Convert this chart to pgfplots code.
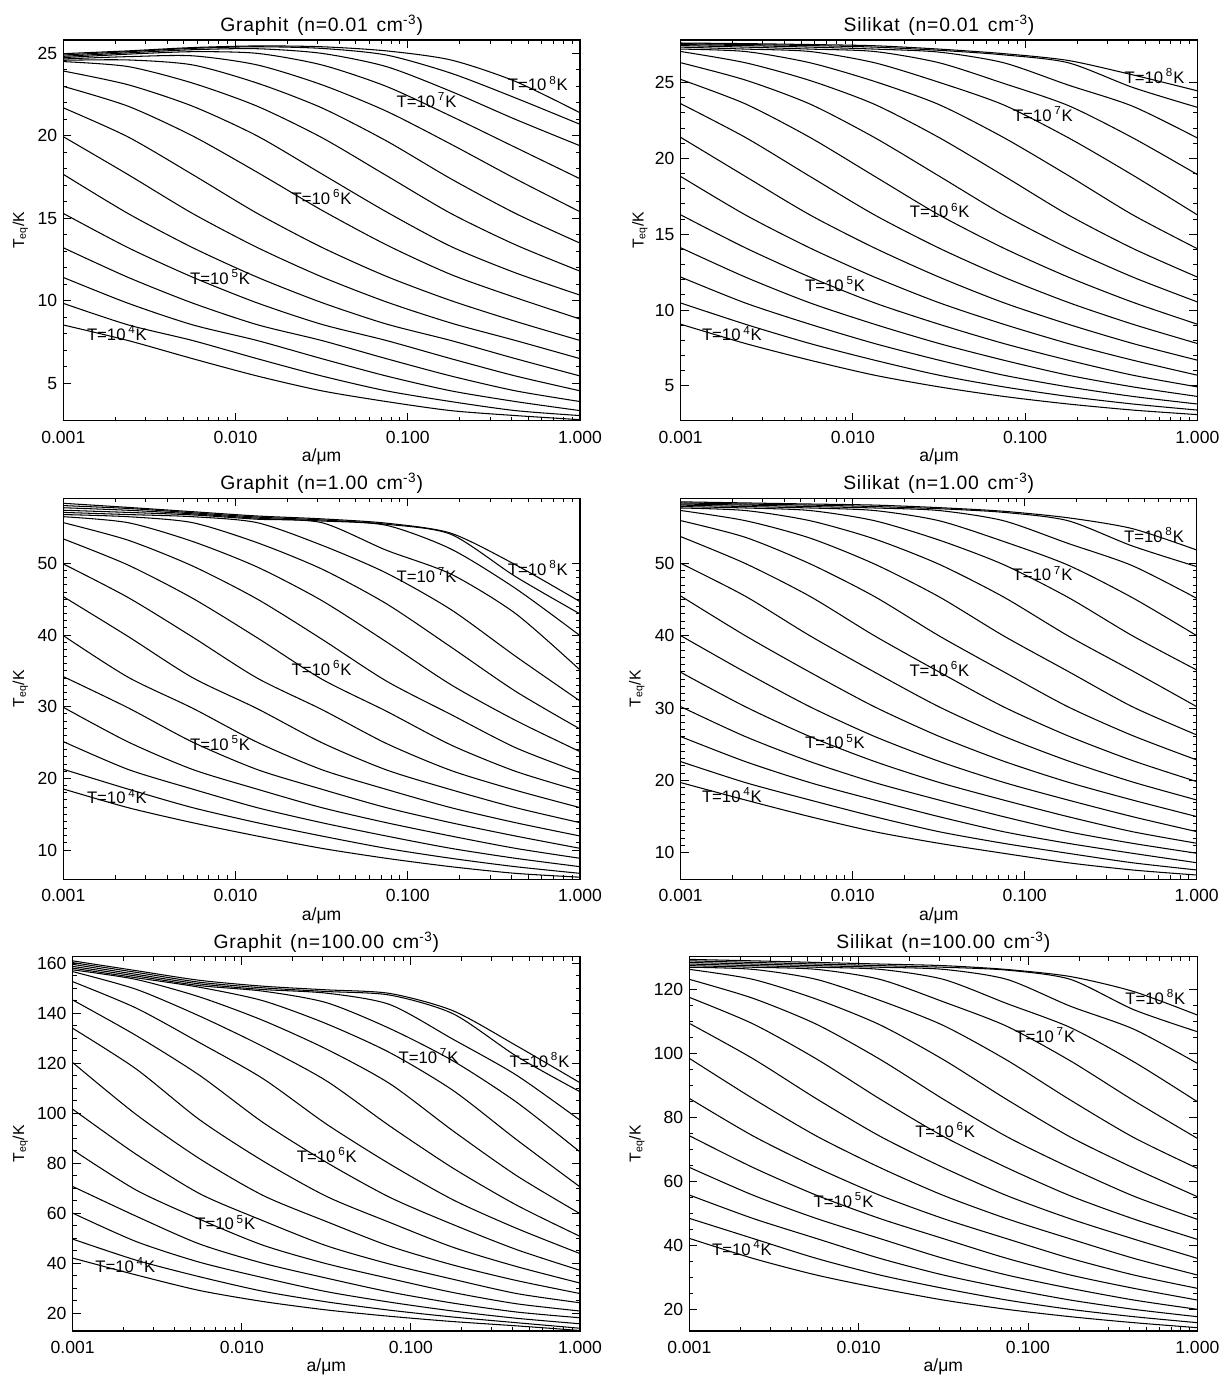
\documentclass[border=0pt]{standalone}
\usepackage{fontspec}
\setmainfont{Liberation Sans}
\newfontfamily\titlefont[LetterSpace=4]{Liberation Sans}
\usepackage{pgfplots}
\pgfplotsset{compat=1.18}
\pgfkeys{/pgf/number format/assume math mode=true}

% one curve of the family: T_eq at nine grain radii, 0.375 dex apart
\newcommand\crv[9]{\addplot coordinates {(0.001,#1)(0.0023714,#2)(0.0056234,#3)(0.0133352,#4)(0.0316228,#5)(0.0749894,#6)(0.1778279,#7)(0.4216965,#8)(1,#9)};}

\pgfplotsset{every axis/.append style={
    scale only axis, anchor=south west,
    xmode=log, xmin=0.001, xmax=1,
    xtick={0.001,0.01,0.1,1},
    xticklabels={0.001,0.010,0.100,1.000},
    minor xtick={0.002,0.003,0.004,0.005,0.006,0.007,0.008,0.009,0.02,0.03,0.04,0.05,0.06,0.07,0.08,0.09,0.2,0.3,0.4,0.5,0.6,0.7,0.8,0.9},
    tick align=inside, tick pos=both, xticklabel pos=lower, yticklabel pos=left,
    major tick length=1.6mm, minor tick length=0.8mm,
    every tick/.append style={black, line width=0.5pt},
    axis line style={line width=0.6pt},
    ticklabel style={font=\fontsize{10}{12}\selectfont},
    xticklabel style={anchor=base, yshift=-4.5mm},
    title style={at={(axis description cs:0.5,1)}, anchor=base, yshift=-0.4mm, font=\titlefont\mdseries\fontsize{11}{13}\selectfont},
    xlabel={a/μm},
    ylabel={T\textsubscript{eq}/K},
    xlabel style={anchor=base, font=\fontsize{10}{12}\selectfont},
    ylabel style={anchor=center, font=\fontsize{9}{11}\selectfont},
    cycle list={{black}}, no markers,
    every axis plot post/.append style={line width=0.6pt, smooth, tension=0.45},
  }}
\tikzset{lbl/.style={anchor=west, inner sep=0pt, font=\fontsize{9.5}{11}\selectfont}}

\begin{document}
\begin{tikzpicture}
\useasboundingbox (0,0) rectangle (244.6mm,275.2mm);

% ---------------- Graphit, n = 0.01
\begin{axis}[at={(12.66mm,191.06mm)}, width=103.34mm, height=76.14mm,
  xlabel style={at={(axis description cs:0.5,-0.1077)}}, ylabel style={at={(axis description cs:-0.083,0.5)}},
  ymin=2.74, ymax=25.81, ytick={5,10,15,20,25}, minor y tick num=4,
  title={Graphit\hspace{0.45em}(n=0.01\hspace{0.45em}cm\textsuperscript{-3})}]
\crv{8.54}{7.6}{6.5}{5.45}{4.55}{3.9}{3.35}{3.05}{2.8}
\crv{9.85}{8.55}{7.6}{6.5}{5.45}{4.55}{3.9}{3.35}{3.05}
\crv{11.42}{9.86}{8.55}{7.6}{6.5}{5.45}{4.55}{3.9}{3.35}
\crv{13.22}{11.43}{9.87}{8.56}{7.6}{6.5}{5.45}{4.55}{3.9}
\crv{15.3}{13.23}{11.44}{9.88}{8.58}{7.6}{6.5}{5.45}{4.55}
\crv{17.67}{15.3}{13.23}{11.44}{9.9}{8.6}{7.6}{6.5}{5.45}
\crv{19.95}{17.66}{15.3}{13.24}{11.46}{9.94}{8.66}{7.6}{6.5}
\crv{21.7}{19.94}{17.66}{15.31}{13.25}{11.49}{10.02}{8.76}{7.6}
\crv{23.0}{21.8}{20.0}{17.8}{15.5}{13.4}{11.6}{10.2}{8.9}
\crv{23.93}{23.1}{21.8}{20.0}{17.7}{15.4}{13.3}{11.7}{10.35}
\crv{24.5}{24.2}{23.2}{21.8}{19.9}{17.6}{15.3}{13.4}{11.8}
\crv{24.58}{24.6}{24.3}{23.2}{21.7}{19.7}{17.4}{15.3}{13.5}
\crv{24.66}{24.8}{24.85}{24.3}{23.1}{21.5}{19.5}{17.4}{15.4}
\crv{24.74}{24.95}{25.1}{25.0}{24.3}{23.0}{21.2}{19.3}{17.4}
\crv{24.82}{25.03}{25.22}{25.28}{25.0}{24.2}{22.7}{21.0}{19.4}
\crv{24.9}{25.1}{25.3}{25.4}{25.3}{24.9}{23.8}{22.3}{20.7}
\crv{24.98}{25.15}{25.35}{25.45}{25.4}{25.15}{24.6}{23.3}{21.4}
\node[lbl] at (axis cs:0.001367,8.03) {T=10\,\textsuperscript{4}K};
\node[lbl] at (axis cs:0.00543,11.46) {T=10\,\textsuperscript{5}K};
\node[lbl] at (axis cs:0.0211,16.31) {T=10\,\textsuperscript{6}K};
\node[lbl] at (axis cs:0.0857,22.17) {T=10\,\textsuperscript{7}K};
\node[lbl] at (axis cs:0.380,23.18) {T=10\,\textsuperscript{8}K};
\end{axis}

% ---------------- Silikat, n = 0.01
\begin{axis}[at={(136.14mm,191.06mm)}, width=103.32mm, height=76.14mm,
  xlabel style={at={(axis description cs:0.5,-0.1077)}}, ylabel style={at={(axis description cs:-0.079,0.5)}},
  ymin=2.7, ymax=27.8, ytick={5,10,15,20,25}, minor y tick num=4,
  title={Silikat\hspace{0.45em}(n=0.01\hspace{0.45em}cm\textsuperscript{-3})}]
\crv{9.06}{7.79}{6.69}{5.7}{4.93}{4.3}{3.8}{3.4}{3.1}
\crv{10.46}{9.06}{7.79}{6.69}{5.7}{4.93}{4.3}{3.8}{3.4}
\crv{12.17}{10.46}{9.06}{7.79}{6.69}{5.7}{4.93}{4.3}{3.8}
\crv{14.1}{12.17}{10.47}{9.06}{7.79}{6.69}{5.7}{4.93}{4.3}
\crv{16.27}{14.1}{12.17}{10.47}{9.06}{7.79}{6.69}{5.7}{4.93}
\crv{18.8}{16.27}{14.09}{12.17}{10.48}{9.06}{7.79}{6.69}{5.7}
\crv{21.38}{18.81}{16.27}{14.09}{12.17}{10.48}{9.06}{7.79}{6.69}
\crv{23.6}{21.38}{18.81}{16.27}{14.08}{12.17}{10.5}{9.06}{7.79}
\crv{25.2}{23.59}{21.38}{18.82}{16.27}{14.08}{12.17}{10.51}{9.06}
\crv{26.3}{25.16}{23.58}{21.37}{18.83}{16.27}{14.07}{12.17}{10.53}
\crv{27.04}{26.3}{25.13}{23.56}{21.37}{18.85}{16.27}{14.06}{12.17}
\crv{27.2}{27.04}{26.3}{25.07}{23.54}{21.37}{18.87}{16.27}{14.04}
\crv{27.33}{27.2}{27.04}{26.3}{25.01}{23.52}{21.36}{18.89}{16.27}
\crv{27.43}{27.33}{27.2}{27.04}{26.3}{24.94}{23.48}{21.35}{18.93}
\crv{27.5}{27.43}{27.33}{27.2}{27.0}{26.3}{24.83}{23.43}{21.34}
\crv{27.56}{27.5}{27.43}{27.33}{27.12}{26.82}{26.3}{24.67}{23.36}
\crv{27.6}{27.56}{27.5}{27.42}{27.2}{26.9}{26.45}{25.5}{24.45}
\node[lbl] at (axis cs:0.001324,8.44) {T=10\,\textsuperscript{4}K};
\node[lbl] at (axis cs:0.00526,11.73) {T=10\,\textsuperscript{5}K};
\node[lbl] at (axis cs:0.0213,16.56) {T=10\,\textsuperscript{6}K};
\node[lbl] at (axis cs:0.0847,22.92) {T=10\,\textsuperscript{7}K};
\node[lbl] at (axis cs:0.377,25.44) {T=10\,\textsuperscript{8}K};
\end{axis}

% ---------------- Graphit, n = 1
\begin{axis}[at={(12.66mm,99.34mm)}, width=103.34mm, height=76.2mm,
  xlabel style={at={(axis description cs:0.5,-0.1077)}}, ylabel style={at={(axis description cs:-0.083,0.5)}},
  ymin=5.91, ymax=59.07, ytick={10,20,30,40,50}, minor y tick num=9,
  title={Graphit\hspace{0.45em}(n=1.00\hspace{0.45em}cm\textsuperscript{-3})}]
\crv{18.51}{15.91}{13.81}{11.95}{10.23}{8.84}{7.67}{6.74}{6.2}
\crv{21.26}{18.5}{15.91}{13.81}{11.95}{10.23}{8.84}{7.67}{6.74}
\crv{25.12}{21.25}{18.5}{15.91}{13.81}{11.95}{10.23}{8.84}{7.67}
\crv{29.91}{25.09}{21.24}{18.49}{15.91}{13.81}{11.95}{10.23}{8.84}
\crv{34.19}{29.85}{25.06}{21.23}{18.48}{15.91}{13.81}{11.95}{10.23}
\crv{39.91}{34.12}{29.79}{25.04}{21.21}{18.46}{15.91}{13.81}{11.95}
\crv{45.35}{39.81}{34.05}{29.73}{24.98}{21.18}{18.42}{15.91}{13.81}
\crv{49.91}{45.24}{39.72}{33.99}{29.61}{24.87}{21.1}{18.34}{15.91}
\crv{53.4}{49.77}{45.13}{39.62}{33.85}{29.37}{24.66}{20.98}{18.23}
\crv{55.67}{53.23}{49.63}{45.02}{39.43}{33.58}{28.91}{24.28}{20.79}
\crv{56.5}{55.67}{53.05}{49.49}{44.81}{39.05}{33.07}{28.09}{23.72}
\crv{56.8}{56.5}{55.67}{52.88}{49.21}{44.37}{38.33}{32.15}{26.88}
\crv{57.1}{56.8}{56.5}{55.67}{52.53}{48.65}{43.55}{37.04}{30.79}
\crv{57.4}{57.1}{56.75}{56.15}{55.67}{51.83}{48.5}{43.0}{35.12}
\crv{57.75}{57.4}{56.9}{56.3}{55.9}{55.3}{52.0}{46.5}{39.91}
\crv{58.05}{57.65}{57.05}{56.45}{56.05}{55.45}{54.05}{48.15}{42.93}
\crv{58.37}{57.8}{57.2}{56.6}{56.2}{55.6}{54.2}{49.8}{44.65}
\node[lbl] at (axis cs:0.001367,17.44) {T=10\,\textsuperscript{4}K};
\node[lbl] at (axis cs:0.00543,24.88) {T=10\,\textsuperscript{5}K};
\node[lbl] at (axis cs:0.0211,35.35) {T=10\,\textsuperscript{6}K};
\node[lbl] at (axis cs:0.0857,48.37) {T=10\,\textsuperscript{7}K};
\node[lbl] at (axis cs:0.380,49.3) {T=10\,\textsuperscript{8}K};
\end{axis}

% ---------------- Silikat, n = 1
\begin{axis}[at={(136.14mm,99.34mm)}, width=103.2mm, height=76.2mm,
  xlabel style={at={(axis description cs:0.5,-0.1077)}}, ylabel style={at={(axis description cs:-0.085,0.5)}},
  ymin=6.31, ymax=58.99, ytick={10,20,30,40,50}, minor y tick num=9,
  title={Silikat\hspace{0.45em}(n=1.00\hspace{0.45em}cm\textsuperscript{-3})}]
\crv{19.68}{17.28}{14.98}{12.9}{11.29}{9.91}{8.6}{7.6}{6.9}
\crv{22.58}{19.69}{17.28}{14.98}{12.9}{11.29}{9.91}{8.6}{7.6}
\crv{26.04}{22.59}{19.69}{17.28}{14.98}{12.9}{11.29}{9.91}{8.6}
\crv{30.18}{26.05}{22.6}{19.7}{17.28}{14.98}{12.9}{11.29}{9.91}
\crv{34.93}{30.18}{26.06}{22.62}{19.72}{17.28}{14.98}{12.9}{11.29}
\crv{40.0}{34.95}{30.18}{26.08}{22.64}{19.73}{17.28}{14.98}{12.9}
\crv{45.48}{40.0}{34.96}{30.18}{26.1}{22.66}{19.75}{17.28}{14.98}
\crv{50.0}{45.46}{40.0}{34.98}{30.18}{26.12}{22.7}{19.78}{17.28}
\crv{53.69}{49.98}{45.45}{40.0}{35.01}{30.18}{26.16}{22.74}{19.82}
\crv{55.9}{53.6}{49.95}{45.43}{40.0}{35.04}{30.18}{26.2}{22.81}
\crv{57.3}{55.9}{53.5}{49.92}{45.4}{40.0}{35.09}{30.18}{26.27}
\crv{57.65}{57.3}{55.9}{53.38}{49.89}{45.37}{40.0}{35.15}{30.18}
\crv{57.85}{57.65}{57.3}{55.9}{53.23}{49.84}{45.32}{40.0}{35.25}
\crv{58.05}{57.85}{57.65}{57.3}{55.9}{53.04}{49.77}{45.26}{40.0}
\crv{58.2}{58.05}{57.85}{57.65}{57.3}{55.9}{52.77}{49.68}{45.16}
\crv{58.35}{58.2}{58.05}{57.85}{57.55}{57.05}{55.9}{52.4}{49.54}
\crv{58.5}{58.35}{58.2}{58.05}{57.7}{57.2}{56.3}{54.8}{51.84}
\node[lbl] at (axis cs:0.001324,17.97) {T=10\,\textsuperscript{4}K};
\node[lbl] at (axis cs:0.00526,25.35) {T=10\,\textsuperscript{5}K};
\node[lbl] at (axis cs:0.0213,35.35) {T=10\,\textsuperscript{6}K};
\node[lbl] at (axis cs:0.0847,48.6) {T=10\,\textsuperscript{7}K};
\node[lbl] at (axis cs:0.377,53.9) {T=10\,\textsuperscript{8}K};
\end{axis}

% ---------------- Graphit, n = 100
\begin{axis}[at={(14.54mm,9.0mm)}, width=101.46mm, height=74.86mm,
  xlabel style={at={(axis description cs:0.5,-0.1095)}}, ylabel style={at={(axis description cs:-0.103,0.5)}},
  ymin=12.8, ymax=162.67, ytick={20,40,...,160}, minor y tick num=3,
  title={Graphit\hspace{0.45em}(n=100.00\hspace{0.45em}cm\textsuperscript{-3})}]
\crv{42.0}{35.25}{29.02}{24.61}{21.24}{18.69}{16.57}{14.86}{13.0}
\crv{49.6}{41.17}{34.53}{28.72}{24.48}{21.13}{18.39}{16.12}{13.9}
\crv{60.0}{48.62}{40.34}{34.17}{28.57}{24.35}{20.79}{17.89}{15.7}
\crv{70.67}{58.78}{47.64}{39.94}{33.99}{28.42}{23.96}{20.4}{18.1}
\crv{85.33}{69.24}{57.57}{47.16}{39.75}{33.81}{28.2}{23.7}{20.8}
\crv{101.6}{83.56}{67.82}{56.96}{46.95}{39.59}{33.5}{27.8}{24.1}
\crv{120.27}{99.5}{81.8}{67.1}{56.63}{46.76}{39.2}{33.0}{27.8}
\crv{134.0}{117.73}{97.4}{80.88}{66.73}{56.27}{46.3}{38.6}{32.0}
\crv{145.33}{131.12}{115.19}{96.31}{80.34}{66.33}{55.4}{45.4}{37.1}
\crv{152.67}{142.11}{128.26}{113.85}{95.67}{79.68}{65.3}{53.9}{43.8}
\crv{156.7}{149.62}{138.91}{126.73}{112.98}{94.89}{77.97}{63.2}{50.7}
\crv{157.4}{153.57}{146.56}{137.16}{125.69}{111.85}{92.88}{75.0}{59.8}
\crv{158.1}{154.25}{150.43}{145.04}{135.84}{124.27}{109.08}{89.4}{70.5}
\crv{158.8}{154.94}{151.1}{148.87}{144.27}{133.92}{120.91}{104.4}{84.5}
\crv{159.6}{155.62}{151.78}{149.53}{148.08}{143.51}{129.58}{115.2}{97.2}
\crv{160.3}{156.41}{152.45}{150.2}{148.74}{147.3}{139.8}{122.8}{108.6}
\crv{161.0}{157.09}{153.22}{150.86}{149.4}{147.96}{141.0}{127.0}{112.2}
\node[lbl] at (axis cs:0.001355,39.33) {T=10\,\textsuperscript{4}K};
\node[lbl] at (axis cs:0.00529,56.27) {T=10\,\textsuperscript{5}K};
\node[lbl] at (axis cs:0.0211,83.33) {T=10\,\textsuperscript{6}K};
\node[lbl] at (axis cs:0.0842,122.93) {T=10\,\textsuperscript{7}K};
\node[lbl] at (axis cs:0.382,121.33) {T=10\,\textsuperscript{8}K};
\end{axis}

% ---------------- Silikat, n = 100
\begin{axis}[at={(137.86mm,9.0mm)}, width=101.6mm, height=74.86mm,
  xlabel style={at={(axis description cs:0.5,-0.1095)}}, ylabel style={at={(axis description cs:-0.103,0.5)}},
  ymin=13.24, ymax=130.09, ytick={20,40,...,120}, minor y tick num=3,
  title={Silikat\hspace{0.45em}(n=100.00\hspace{0.45em}cm\textsuperscript{-3})}]
\crv{42.16}{35.92}{30.72}{26.56}{22.91}{20.0}{17.71}{15.84}{14.28}
\crv{48.41}{42.14}{35.92}{30.72}{26.56}{22.91}{20.0}{17.71}{15.84}
\crv{55.7}{48.4}{42.13}{35.92}{30.72}{26.56}{22.91}{20.0}{17.71}
\crv{64.33}{55.67}{48.38}{42.11}{35.92}{30.72}{26.56}{22.91}{20.0}
\crv{74.21}{64.31}{55.65}{48.36}{42.08}{35.92}{30.72}{26.56}{22.91}
\crv{85.87}{74.17}{64.3}{55.61}{48.33}{42.05}{35.92}{30.72}{26.56}
\crv{98.36}{85.82}{74.13}{64.28}{55.57}{48.3}{42.0}{35.92}{30.72}
\crv{109.28}{98.28}{85.77}{74.07}{64.25}{55.51}{48.26}{41.94}{35.92}
\crv{117.4}{109.15}{98.2}{85.69}{74.0}{64.22}{55.44}{48.19}{41.85}
\crv{123.02}{117.12}{109.02}{98.09}{85.61}{73.92}{64.18}{55.33}{48.1}
\crv{126.14}{123.02}{116.85}{108.84}{97.97}{85.51}{73.8}{64.11}{55.17}
\crv{126.8}{126.14}{123.02}{116.46}{108.63}{97.81}{85.35}{73.63}{64.02}
\crv{127.3}{126.8}{126.14}{123.02}{116.02}{108.37}{97.58}{85.14}{73.38}
\crv{127.8}{127.3}{126.8}{126.14}{123.02}{115.47}{107.98}{97.27}{84.83}
\crv{128.3}{127.8}{127.3}{126.8}{126.14}{123.02}{114.64}{107.46}{96.8}
\crv{128.8}{128.3}{127.8}{127.3}{126.8}{125.9}{123.02}{113.54}{106.68}
\crv{129.25}{128.8}{128.3}{127.8}{127.3}{126.1}{123.9}{119.2}{111.88}
\node[lbl] at (axis cs:0.001356,39.04) {T=10\,\textsuperscript{4}K};
\node[lbl] at (axis cs:0.0054,54.13) {T=10\,\textsuperscript{5}K};
\node[lbl] at (axis cs:0.0215,75.98) {T=10\,\textsuperscript{6}K};
\node[lbl] at (axis cs:0.0839,105.64) {T=10\,\textsuperscript{7}K};
\node[lbl] at (axis cs:0.3746,117.6) {T=10\,\textsuperscript{8}K};
\end{axis}
\end{tikzpicture}
\end{document}
